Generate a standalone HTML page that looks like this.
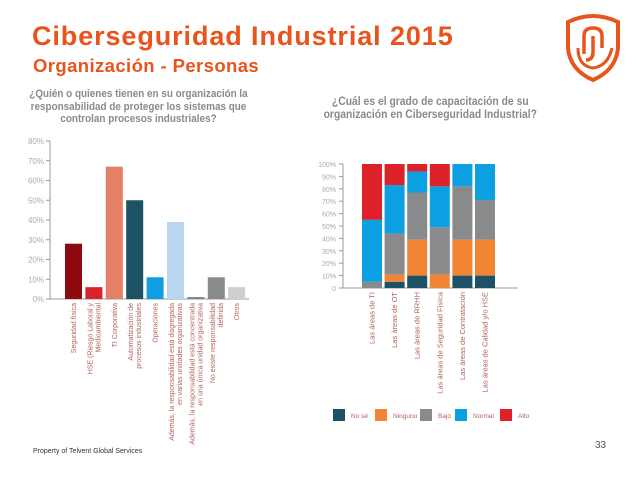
<!DOCTYPE html>
<html><head><meta charset="utf-8">
<style>
body{margin:0;width:638px;height:479px;background:#fff;overflow:hidden;font-family:"Liberation Sans",sans-serif;position:relative}
.t{position:absolute;white-space:nowrap}
</style></head><body>
<div class="t" style="left:32px;top:21px;font-size:27px;font-weight:bold;color:#e8541b;letter-spacing:0.9px">Ciberseguridad Industrial 2015</div>
<div class="t" style="left:33px;top:55px;font-size:18.5px;font-weight:bold;color:#e8541b;letter-spacing:0.4px">Organización - Personas</div>
<div class="t" style="left:26px;top:88px;width:250px;text-align:center;font-size:11px;font-weight:bold;color:#8a8a8a;line-height:12.5px;white-space:normal;transform:scaleX(0.9);transform-origin:left">¿Quién o quienes tienen en su organización la responsabilidad de proteger los sistemas que controlan procesos industriales?</div>
<div class="t" style="left:316px;top:96px;width:254px;text-align:center;font-size:11.5px;font-weight:bold;color:#8a8a8a;line-height:13px;white-space:normal;transform:scaleX(0.9);transform-origin:left">¿Cuál es el grado de capacitación de su organización en Ciberseguridad Industrial?</div>
<svg style="position:absolute;left:560px;top:8px" width="66" height="76" viewBox="0 0 66 76">
<path d="M8 14 Q33 2 58 14 L58 40 Q56 62 33 72 Q10 62 8 40 Z" fill="none" stroke="#e8541b" stroke-width="4"/>
<path d="M24 46 L24 28 Q24 20 33 20 Q42 20 42 28 L42 40 M33 28 L33 44 Q33 52 26 52" fill="none" stroke="#e8541b" stroke-width="3.5"/>
<path d="M18 40 Q18 58 33 60 Q48 58 52 40" fill="none" stroke="#e8541b" stroke-width="3"/>
</svg>
<svg id="c" width="638" height="479" style="position:absolute;left:0;top:0"></svg>
<div class="t" style="left:33px;top:448px;font-size:7px;color:#333">Property of Telvent Global Services</div>
<div class="t" style="left:595px;top:440px;font-size:10px;color:#555">33</div>
<script>
const leftCats=["Seguridad física","HSE (Riesgo Laboral y|Medioambiental","TI Corporativa","Automatización de|procesos industriales","Operaciones","Además, la responsabilidad está disgregada|en varias unidades organizativas","Además, la responsabilidad está concentrada|en una única unidad organizativa","No existe responsabilidad|definida","Otros"];
const leftVals=[28,6,67,50,11,39,1,11,6];
const leftColors=["#8e0a0f","#d9232b","#e57f66","#1d5266","#0f9ee0","#b9d6f0","#808589","#898a8c","#cfcfcf"];
const leftTicks=["0%","10%","20%","30%","40%","50%","60%","70%","80%"];
const rightCats=["Las áreas de TI","Las áreas de OT","Las áreas de RRHH","Las áreas de Seguridad Física","Las áreas de Contratación","Las áreas de Calidad y/o HSE"];
const seriesNames=["No sé","Ninguno","Bajo","Normal","Alto"];
const noSe=[0,5,10,0,10,10];
const ninguno=[0,6,29,11,29,29];
const bajo=[5,33,38,38,43,32];
const normal=[50,39,17,33,18,29];
const alto=[45,17,6,18,0,0];
const seriesColors=["#1d5266","#f28533","#898a8c","#0c9fe2","#dc2128"];
const rightTicks=["0","10%","20%","30%","40%","50%","60%","70%","80%","90%","100%"];
const svg=document.getElementById('c');const NS="http://www.w3.org/2000/svg";
function mk(t,a,p){const e=document.createElementNS(NS,t);for(const k in a)e.setAttribute(k,a[k]);(p||svg).appendChild(e);return e;}
const ly=v=>299-v*(158/80);
const lx=i=>65+i*20.4;
let ax=mk('path',{d:'M50 141 L50 299 L249 299',stroke:'#999',fill:'none','stroke-width':1});

leftTicks.forEach((t,i)=>{const v=i*10;
 const l=mk('line',{x1:46,x2:50,y1:ly(v),y2:ly(v),stroke:'#999'});
 const tx=mk('text',{x:44,y:ly(v)+3,'font-size':8,fill:'#aaa','text-anchor':'end'});tx.textContent=t;});
leftVals.forEach((v,i)=>{
 const r=mk('rect',{x:lx(i),y:ly(v),width:17,height:ly(0)-ly(v),fill:leftColors[i]});
 
 const lines=leftCats[i].split('|');
 lines.forEach((s,j)=>{const cx=lx(i)+8.5+(j-(lines.length-1)/2)*8+2.5;
  const tx=mk('text',{x:0,y:0,'font-size':7,fill:'#b0645a','text-anchor':'end',transform:`translate(${cx},303) rotate(-90)`});
  tx.textContent=s;});
});
const ry=v=>288-v*1.24;
const rx=i=>362+i*22.6;
let ax2=mk('path',{d:'M343 164 L343 288 L518 288',stroke:'#999',fill:'none','stroke-width':1});

rightTicks.forEach((t,i)=>{const v=i*10;
 const l=mk('line',{x1:339,x2:343,y1:ry(v),y2:ry(v),stroke:'#999'});
 const tx=mk('text',{x:336,y:ry(v)+3,'font-size':7,fill:'#aaa','text-anchor':'end'});tx.textContent=t;});
const series=[noSe,ninguno,bajo,normal,alto];
rightCats.forEach((c,i)=>{let acc=0;
 series.forEach((s,k)=>{const v=s[i];if(v>0){
  const r=mk('rect',{x:rx(i),y:ry(acc+v),width:20,height:ry(acc)-ry(acc+v),fill:seriesColors[k]});
  }acc+=v;});
 const tx=mk('text',{x:0,y:0,'font-size':7.5,fill:'#b0645a','text-anchor':'end',transform:`translate(${rx(i)+12.5},292) rotate(-90)`});
 tx.textContent=c;
});
const legX=[333,375,420,455,500];
seriesNames.forEach((n,k)=>{
 const r=mk('rect',{x:legX[k],y:409,width:12,height:12,fill:seriesColors[k]});
 
 const tx=mk('text',{x:legX[k]+18,y:418,'font-size':6.5,fill:'#b0645a'});tx.textContent=n;
 
});
</script>
</body></html>
